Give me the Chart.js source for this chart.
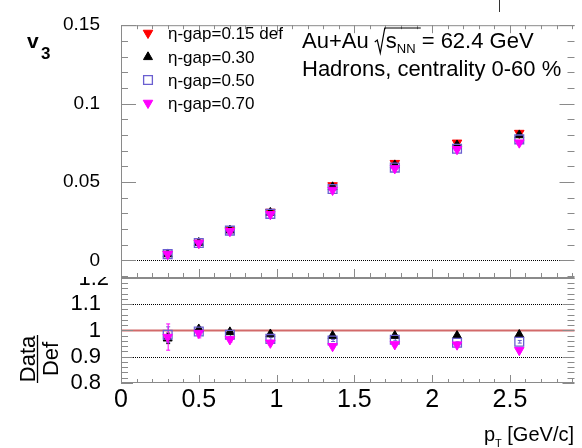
<!DOCTYPE html>
<html><head><meta charset="utf-8">
<script src="https://cdn.jsdelivr.net/npm/chart.js@4/dist/chart.umd.min.js"></script>
<style>html,body{margin:0;padding:0;background:#fff;}#wrap{position:relative;width:582px;height:448px;}canvas{display:block;}</style>
</head><body><div id="wrap"><canvas id="c" width="582" height="448"></canvas></div>
<script>
// ---- data ----
const ptValues   = [0.30, 0.50, 0.70, 0.96, 1.36, 1.76, 2.16, 2.56];
const v3Gap015   = [0.0041, 0.0112, 0.0193, 0.0309, 0.0478, 0.0620, 0.0750, 0.0812];
const v3Gap030   = [0.0040, 0.0113, 0.0192, 0.0305, 0.0468, 0.0608, 0.0735, 0.0799];
const v3Gap050   = [0.0040, 0.0111, 0.0190, 0.0297, 0.0455, 0.0592, 0.0712, 0.0772];
const v3Gap070   = [0.0040, 0.0111, 0.0186, 0.0294, 0.0449, 0.0587, 0.0709, 0.0751];
const ratioGap030 = [0.970, 1.005, 0.994, 0.986, 0.980, 0.980, 0.980, 0.984];
const ratioGap050 = [0.984, 0.996, 0.984, 0.968, 0.962, 0.965, 0.953, 0.957];
const ratioGap070 = [0.975, 0.990, 0.966, 0.953, 0.940, 0.947, 0.946, 0.925];
const ratioErr030 = [0.020, 0.008, 0.006, 0.004, 0.003, 0.003, 0.003, 0.004];
const ratioErr050 = [0.030, 0.012, 0.007, 0.005, 0.004, 0.004, 0.004, 0.005];
const ratioErr070 = [0.050, 0.018, 0.010, 0.006, 0.005, 0.005, 0.005, 0.006];
const seriesLabels = ['η-gap=0.15 def', 'η-gap=0.30', 'η-gap=0.50', 'η-gap=0.70'];
const v3TickLabels = [0, 0.05, 0.1, 0.15];
const ratioTickLabels = [0.8, 0.9, 1, 1.1];
const ptTickLabels = [0, 0.5, 1, 1.5, 2, 2.5];

const FONT = '"Liberation Sans", Arial, Helvetica, sans-serif';
const near = (v, arr) => arr.some(a => Math.abs(a - v) < 1e-6);
const isMult = (v, s) => Math.abs(v / s - Math.round(v / s)) < 1e-6;
const pts = ys => ptValues.map((x, i) => ({x, y: ys[i]}));

const styles = [
  {pointStyle: 'triangle', rotation: 180, radius: 5.5, bg: '#ff0000', bd: '#ff0000', bw: 1},
  {pointStyle: 'triangle', rotation: 0,   radius: 5.2, bg: '#000000', bd: '#000000', bw: 1},
  {pointStyle: 'rect',     rotation: 0,   radius: 6.2, bg: 'rgba(0,0,0,0)', bd: '#6a5fd0', bw: 1.3},
  {pointStyle: 'triangle', rotation: 180, radius: 5.5, bg: '#ff00ff', bd: '#ff00ff', bw: 1}
];
function ds(label, data, s, axis, order, err) {
  return {label, data, yAxisID: axis, order, errors: err || null,
    pointStyle: s.pointStyle, rotation: s.rotation, pointRadius: s.radius,
    pointBackgroundColor: s.bg, pointBorderColor: s.bd, pointBorderWidth: s.bw,
    backgroundColor: s.bg, borderColor: s.bd, showLine: false, pointHoverRadius: s.radius};
}

const rootPad = {
  id: 'rootPad',
  beforeDatasetsDraw(chart) {
    const ctx = chart.ctx, xs = chart.scales.x, ys = chart.scales.y, y2 = chart.scales.y2;
    const L = xs.left, R = xs.right;
    ctx.save();
    ctx.strokeStyle = '#000'; ctx.lineWidth = 1; ctx.setLineDash([1, 1]);
    [[ys, 0], [y2, 1.1], [y2, 0.9]].forEach(([sc, v]) => {
      const p = Math.round(sc.getPixelForValue(v)) + 0.5;
      ctx.beginPath(); ctx.moveTo(L, p); ctx.lineTo(R, p); ctx.stroke();
    });
    ctx.setLineDash([]);
    ctx.strokeStyle = '#d26a6a'; ctx.lineWidth = 2;
    const p1 = y2.getPixelForValue(1);
    ctx.beginPath(); ctx.moveTo(L, p1); ctx.lineTo(R, p1); ctx.stroke();
    // error bars
    chart.data.datasets.forEach((d, i) => {
      if (!d.errors) return;
      const sc = chart.scales[d.yAxisID];
      ctx.strokeStyle = d.pointBorderColor; ctx.lineWidth = 1;
      d.data.forEach((pt, j) => {
        const x = xs.getPixelForValue(pt.x) + 0.5;
        const a = sc.getPixelForValue(pt.y + d.errors[j]), b = sc.getPixelForValue(pt.y - d.errors[j]);
        ctx.beginPath(); ctx.moveTo(x, a); ctx.lineTo(x, b);
        ctx.moveTo(x - 2, a); ctx.lineTo(x + 2, a); ctx.moveTo(x - 2, b); ctx.lineTo(x + 2, b);
        ctx.stroke();
      });
    });
    ctx.restore();
  },
  afterDraw(chart) {
    const ctx = chart.ctx, xs = chart.scales.x, ys = chart.scales.y, y2 = chart.scales.y2;
    const L = xs.left, R = xs.right;
    const T1 = ys.top, B1 = ys.bottom, T2 = y2.top, B2 = y2.bottom;
    ctx.save();
    ctx.strokeStyle = '#8a8a8a'; ctx.lineWidth = 1;
    const seg = (x1, y1, x2, y2_) => { ctx.beginPath(); ctx.moveTo(x1, y1); ctx.lineTo(x2, y2_); ctx.stroke(); };
    // frames
    seg(L, T1 + 0.5, R, T1 + 0.5);
    seg(L + 0.5, T1, L + 0.5, B2);
    ctx.lineWidth = 2; seg(L, B1, R, B1); ctx.lineWidth = 1;
    seg(L, B2 - 0.5, R, B2 - 0.5);
    // y ticks
    ys.ticks.forEach(t => {
      const p = Math.round(ys.getPixelForValue(t.value)) + 0.5;
      const len = isMult(t.value, 0.05) ? 15 : 7;
      seg(L, p, L + len, p); seg(R - len, p, R, p);
    });
    y2.ticks.forEach(t => {
      const p = Math.round(y2.getPixelForValue(t.value)) + 0.5;
      const len = isMult(t.value, 0.1) ? 12 : 7;
      seg(L, p, L + len, p); seg(R - len, p, R, p);
    });
    xs.ticks.forEach(t => {
      const p = Math.round(xs.getPixelForValue(t.value)) + 0.5;
      const maj = isMult(t.value, 0.5);
      seg(p, T1, p, T1 + (maj ? 8 : 4));
      seg(p, B1, p, B1 - (maj ? 9 : 5));
      seg(p, B2, p, B2 - (maj ? 8 : 4));
    });
    // stray mark at top
    ctx.strokeStyle = '#333'; seg(499.5, 0, 499.5, 12);
    // clipped 1.2 label
    ctx.save();
    ctx.beginPath(); ctx.rect(0, B1 - 1, L - 2, 30); ctx.clip();
    ctx.fillStyle = '#000'; ctx.font = '22px ' + FONT; ctx.textAlign = 'right'; ctx.textBaseline = 'middle';
    ctx.fillText('1.2', L - 12, y2.getPixelForValue(1.2) + 1);
    ctx.restore();
    // v3 label
    ctx.fillStyle = '#000'; ctx.textAlign = 'left'; ctx.textBaseline = 'alphabetic';
    ctx.font = 'bold 21px ' + FONT; ctx.fillText('v', 27, 48);
    ctx.font = 'bold 17px ' + FONT; ctx.fillText('3', 41, 59);
    // legend
    const rowsY = [33, 57, 80, 103];
    chart.data.datasets.slice(0, 4).forEach((d, i) => {
      ctx.save();
      ctx.fillStyle = d.pointBackgroundColor; ctx.strokeStyle = d.pointBorderColor; ctx.lineWidth = d.pointBorderWidth;
      Chart.helpers.drawPoint(ctx, {pointStyle: d.pointStyle, rotation: d.rotation, radius: d.pointRadius, borderWidth: d.pointBorderWidth}, 148, rowsY[i]);
      ctx.restore();
      ctx.fillStyle = '#000'; ctx.font = '17px ' + FONT; ctx.textBaseline = 'middle'; ctx.textAlign = 'left';
      ctx.fillText(seriesLabels[i], 168, rowsY[i] + 1);
    });
    // annotation
    ctx.textBaseline = 'alphabetic'; ctx.font = '22px ' + FONT;
    let x = 302;
    ctx.fillText('Au+Au ', x, 48); x += ctx.measureText('Au+Au ').width;
    ctx.strokeStyle = '#000'; ctx.lineWidth = 1.2;
    ctx.beginPath(); ctx.moveTo(x, 42); ctx.lineTo(x + 2.5, 40); ctx.lineTo(x + 5.5, 53); ctx.lineTo(x + 10, 28); ctx.lineTo(x + 46, 28); ctx.stroke();
    x += 11;
    ctx.fillText('s', x, 48); x += ctx.measureText('s').width;
    ctx.font = '13px ' + FONT; ctx.fillText('NN', x, 53); x += ctx.measureText('NN').width;
    ctx.font = '22px ' + FONT; ctx.fillText(' = 62.4 GeV', x, 48);
    ctx.fillText('Hadrons, centrality 0-60 %', 302, 76);
    // x title
    ctx.font = '20px ' + FONT;
    const w1 = ctx.measureText('p').width, w3 = ctx.measureText(' [GeV/c]').width;
    ctx.font = '11px ' + FONT; const w2 = ctx.measureText('T').width;
    let px = 574 - w1 - w2 - w3;
    ctx.font = '20px ' + FONT; ctx.fillText('p', px, 441); px += w1;
    ctx.font = '11px ' + FONT; ctx.fillText('T', px, 447); px += w2;
    ctx.font = '20px ' + FONT; ctx.fillText(' [GeV/c]', px, 441);
    // Data/Def
    ctx.save();
    ctx.translate(37, 359); ctx.rotate(-Math.PI / 2);
    ctx.font = '22px ' + FONT; ctx.textAlign = 'center';
    ctx.fillText('Data', 0, -2);
    ctx.fillText('Def', 0, 21);
    ctx.lineWidth = 1.3; ctx.beginPath(); ctx.moveTo(-24, 0.5); ctx.lineTo(24, 0.5); ctx.stroke();
    ctx.restore();
    ctx.restore();
  }
};

new Chart(document.getElementById('c'), {
  type: 'scatter',
  data: {datasets: [
    ds(seriesLabels[0], pts(v3Gap015), styles[0], 'y', 4),
    ds(seriesLabels[1], pts(v3Gap030), styles[1], 'y', 3),
    ds(seriesLabels[2], pts(v3Gap050), styles[2], 'y', 2),
    ds(seriesLabels[3], pts(v3Gap070), styles[3], 'y', 1),
    ds(seriesLabels[1], pts(ratioGap030), styles[1], 'y2', 3, ratioErr030),
    ds(seriesLabels[2], pts(ratioGap050), styles[2], 'y2', 2, ratioErr050),
    ds(seriesLabels[3], pts(ratioGap070), styles[3], 'y2', 1, ratioErr070)
  ]},
  options: {
    responsive: false, animation: false, devicePixelRatio: 1,
    layout: {padding: {top: 15, right: 0, bottom: 0, left: 0}},
    plugins: {legend: {display: false}, tooltip: {enabled: false}},
    scales: {
      x: {type: 'linear', position: 'bottom', min: 0, max: 2.915,
        grid: {display: false}, border: {display: false},
        ticks: {stepSize: 0.1, autoSkip: false, maxRotation: 0, includeBounds: false, padding: -6,
          color: '#000', font: {family: FONT, size: 25},
          callback: v => near(v, ptTickLabels) ? String(Math.round(v * 10) / 10) : ''},
        afterFit: s => { s.height = 65; }},
      y2: {type: 'linear', position: 'left', stack: 'v', stackWeight: 108, min: 0.8, max: 1.2,
        grid: {display: false}, border: {display: false},
        ticks: {stepSize: 0.02, autoSkip: false, includeBounds: false, padding: 12,
          color: '#000', font: {family: FONT, size: 22},
          callback: v => near(v, ratioTickLabels) ? String(Math.round(v * 10) / 10) : ''},
        afterFit: s => { s.width = 121; }},
      y: {type: 'linear', position: 'left', stack: 'v', stackWeight: 260, min: -0.0112, max: 0.15,
        grid: {display: false}, border: {display: false},
        ticks: {stepSize: 0.01, autoSkip: false, includeBounds: false, padding: 13,
          color: '#000', font: {family: FONT, size: 19},
          callback: v => near(v, v3TickLabels) ? String(Math.round(v * 100) / 100) : ''},
        afterFit: s => { s.width = 121; }}
    }
  },
  plugins: [rootPad]
});
</script></body></html>
